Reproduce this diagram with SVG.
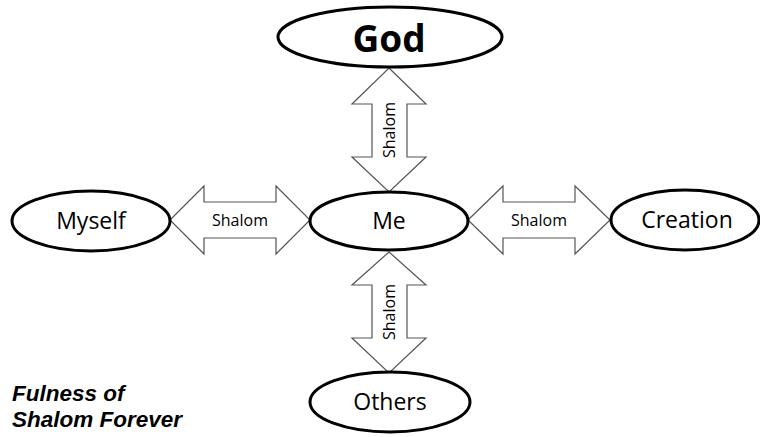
<svg xmlns="http://www.w3.org/2000/svg" width="760" height="437" viewBox="0 0 760 437">
<style>
.node{fill:#fff;stroke:#000;stroke-width:3}
.lbl{font-family:"Open Sans","Liberation Sans",sans-serif;font-size:23px;fill:#000;text-anchor:middle}
.god{font-family:"Open Sans","Liberation Sans",sans-serif;font-size:37px;font-weight:bold;fill:#000;text-anchor:middle}
.arr{fill:#fff;stroke:#555;stroke-width:1.2;stroke-linejoin:miter}
.sh{font-family:"Open Sans","Liberation Sans",sans-serif;font-size:16px;fill:#000;text-anchor:middle}
.note{font-family:"Liberation Sans",Arial,sans-serif;font-size:22.5px;font-weight:bold;font-style:italic;fill:#000}
</style>
<rect width="760" height="437" fill="#fff"/>
<g id="connectors">
<g id="arrow-god-me">
<polygon class="arr" points="389,68 426,104 407,104 407,157 426,157 389,192 352,157 372,157 372,104 352,104"/>
<text class="sh" transform="translate(395,130) rotate(-90)">Shalom</text>
</g>
<g id="arrow-me-others">
<polygon class="arr" points="389,252 426,285 407,285 407,338 426,338 389,373 352,338 372,338 372,285 352,285"/>
<text class="sh" transform="translate(395,312) rotate(-90)">Shalom</text>
</g>
<g id="arrow-myself-me">
<polygon class="arr" points="170,220 204,186 204,202 276,202 276,186 310,220 276,254 276,238 204,238 204,254"/>
<text class="sh" x="240" y="226">Shalom</text>
</g>
<g id="arrow-me-creation">
<polygon class="arr" points="468,220 503,186 503,202 575,202 575,186 610,220 575,254 575,238 503,238 503,254"/>
<text class="sh" x="539" y="226">Shalom</text>
</g>
</g>
<g id="god">
<ellipse class="node" cx="390" cy="37" rx="112" ry="30"/>
<text class="god" x="389" y="52">God</text>
</g>
<g id="me">
<ellipse class="node" cx="389" cy="221" rx="79" ry="29"/>
<text class="lbl" x="389" y="229">Me</text>
</g>
<g id="myself">
<ellipse class="node" cx="91" cy="221" rx="79" ry="30"/>
<text class="lbl" x="91" y="229">Myself</text>
</g>
<g id="creation">
<ellipse class="node" cx="685" cy="220" rx="74" ry="30"/>
<text class="lbl" x="687" y="228">Creation</text>
</g>
<g id="others">
<ellipse class="node" cx="390" cy="402" rx="80" ry="30"/>
<text class="lbl" x="390" y="410">Others</text>
</g>
<g id="caption">
<text class="note" x="12" y="401">Fulness of</text>
<text class="note" x="12" y="427">Shalom Forever</text>
</g>
</svg>
